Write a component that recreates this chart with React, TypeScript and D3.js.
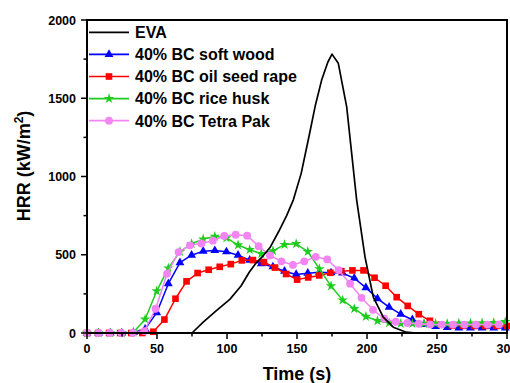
import React from 'react';
import * as d3 from 'd3';

const xTicks = [0, 50, 100, 150, 200, 250, 300];
const xMinor = [25, 75, 125, 175, 225, 275];
const yTicks = [0, 500, 1000, 1500, 2000];
const yMinor = [250, 750, 1250, 1750];

const legendNames = ['EVA', '40% BC soft wood', '40% BC oil seed rape', '40% BC rice husk', '40% BC Tetra Pak'];

const evaTime = [0, 75, 83, 92, 102, 110, 116, 121, 126, 131, 137, 142.6, 147.4, 153, 159, 163, 167.6, 172, 175, 179.5, 185.5, 192.6, 198.6, 204.5, 211.6, 218.8, 228, 235, 300];
const evaHRR = [0, 0, 70, 140, 215, 300, 390, 450, 495, 550, 650, 750, 851, 1020, 1275, 1450, 1616, 1730, 1782, 1723, 1445, 851, 485, 229, 101, 37, 5, 0, 0];

const woodTime = [0, 8.3, 16.6, 24.9, 33.2, 41.5, 49.8, 58.1, 66.4, 74.7, 83, 91.3, 99.6, 107.9, 116.2, 124.5, 132.8, 141.1, 149.4, 157.7, 166, 174.3, 182.6, 190.9, 199.2, 207.5, 215.8, 224.1, 232.4, 240.7, 249, 257.3, 265.6, 273.9, 282.2, 290.5, 298.8];
const woodHRR = [0, 0, 0, 0, 3, 25, 130, 315, 450, 497, 523, 527, 519, 497, 465, 443, 423, 395, 374, 382, 388, 385, 383, 350, 290, 220, 165, 120, 85, 55, 42, 36, 33, 32, 32, 32, 32];

const rapeTime = [0, 7.9, 15.8, 23.7, 31.6, 39.5, 47.4, 55.3, 63.2, 71.1, 79, 86.9, 94.8, 102.7, 110.6, 118.5, 126.4, 134.3, 142.2, 150.1, 158, 165.9, 173.8, 181.7, 189.6, 197.5, 205.4, 213.3, 221.2, 229.1, 237, 244.9, 252.8, 260.7, 268.6, 276.5, 284.4, 292.3, 300.2];
const rapeHRR = [0, 0, 0, 0, 0, 0, 8, 86, 219, 330, 383, 404, 423, 440, 464, 466, 453, 418, 377, 341, 355, 368, 385, 395, 400, 400, 353, 302, 229, 173, 120, 78, 54, 48, 46, 45, 45, 45, 45];

const huskTime = woodTime;
const huskHRR = [0, 0, 0, 0, 5, 88, 268, 414, 520, 570, 600, 617, 608, 562, 532, 506, 525, 565, 570, 520, 410, 300, 210, 155, 105, 78, 64, 60, 60, 60, 60, 60, 62, 62, 64, 66, 72];

const tetraTime = [0, 8.2, 16.3, 24.5, 32.7, 40.9, 49, 57.2, 65.4, 73.5, 81.7, 89.9, 98, 106.2, 114.4, 122.6, 130.7, 138.9, 147.1, 155.2, 163.4, 171.6, 179.7, 187.9, 196.1, 204.3, 212.4, 220.6, 228.8, 236.9, 245.1, 253.3, 261.5, 269.6, 277.8, 286, 294.1];
const tetraHRR = [0, 0, 0, 0, 0, 12, 155, 379, 517, 560, 572, 590, 620, 628, 622, 555, 495, 458, 435, 458, 487, 470, 402, 315, 225, 148, 91, 72, 64, 59, 55, 54, 54, 54, 54, 54, 55];

const FONT = '"Liberation Sans", Arial, Helvetica, sans-serif';

type Series = { name: string; t: number[]; v: number[]; color: string; marker: string | null };

const series: Series[] = [
  { name: legendNames[1], t: woodTime, v: woodHRR, color: '#0000ff', marker: 'triangle' },
  { name: legendNames[2], t: rapeTime, v: rapeHRR, color: '#ff0000', marker: 'square' },
  { name: legendNames[3], t: huskTime, v: huskHRR, color: '#1ecc1e', marker: 'star' },
  { name: legendNames[4], t: tetraTime, v: tetraHRR, color: '#f384f3', marker: 'circle' },
  { name: legendNames[0], t: evaTime, v: evaHRR, color: '#000000', marker: null },
];

const symbolPath = (m: string) => {
  if (m === 'triangle') return d3.symbol().type(d3.symbolTriangle).size(34)()!;
  if (m === 'square') return d3.symbol().type(d3.symbolSquare).size(44)()!;
  if (m === 'star') return d3.symbol().type(d3.symbolStar).size(34)()!;
  return d3.symbol().type(d3.symbolCircle).size(48)()!;
};

export default function App() {
  const W = 510, H = 383;
  const x = d3.scaleLinear().domain([0, 300]).range([87, 507]);
  const y = d3.scaleLinear().domain([0, 2000]).range([333, 20]);
  const line = d3.line<[number, number]>().x(d => x(d[0])).y(d => y(d[1]));

  const legendOrder = [4, 0, 1, 2, 3];
  const legendY0 = 32.3, legendDy = 22.1;

  return (
    <svg width={W} height={H} style={{ position: 'absolute', left: 0, top: 0 }} fontFamily={FONT}>
      <rect x={0} y={0} width={W} height={H} fill="#fff" />
      {/* series */}
      {series.map((s, i) => {
        const pts: [number, number][] = s.t.map((t, k) => [t, s.v[k]]);
        return (
          <g key={i}>
            <path d={line(pts)!} fill="none" stroke={s.color} strokeWidth={s.marker ? 1.5 : 1.7} strokeLinejoin="round" />
            {s.marker && pts.map((p, k) => (
              <path key={k} d={symbolPath(s.marker!)} transform={`translate(${x(p[0])},${y(p[1])})`} fill={s.color} />
            ))}
          </g>
        );
      })}
      {/* frame */}
      <line x1={87} x2={507} y1={20} y2={20} stroke="#000" strokeWidth={2} />
      <line x1={507} x2={507} y1={19} y2={334} stroke="#000" strokeWidth={2} />
      <line x1={87} x2={87} y1={19} y2={334} stroke="#000" strokeWidth={2} />
      <line x1={86} x2={508} y1={333} y2={333} stroke="#000" strokeWidth={2} />
      {/* x ticks */}
      {xTicks.map(t => (
        <g key={'xt' + t}>
          <line x1={x(t)} x2={x(t)} y1={333} y2={339} stroke="#000" strokeWidth={1.5} />
          <text x={x(t)} y={353} textAnchor="middle" fontSize={12.5} fontWeight="bold">{t}</text>
        </g>
      ))}
      {xMinor.map(t => (
        <line key={'xm' + t} x1={x(t)} x2={x(t)} y1={333} y2={336.5} stroke="#000" strokeWidth={1.5} />
      ))}
      {/* y ticks */}
      {yTicks.map(t => (
        <g key={'yt' + t}>
          <line x1={81} x2={87} y1={y(t)} y2={y(t)} stroke="#000" strokeWidth={1.5} />
          <text x={76} y={y(t) + 4.5} textAnchor="end" fontSize={12.5} fontWeight="bold">{t}</text>
        </g>
      ))}
      {yMinor.map(t => (
        <line key={'ym' + t} x1={83.5} x2={87} y1={y(t)} y2={y(t)} stroke="#000" strokeWidth={1.5} />
      ))}
      {/* axis titles */}
      <text x={297} y={380} textAnchor="middle" fontSize={18} fontWeight="bold">Time (s)</text>
      <text transform="translate(30,166) rotate(-90)" textAnchor="middle" fontSize={18} fontWeight="bold">
        HRR (kW/m<tspan fontSize={12} dy={-7}>2</tspan><tspan dy={7}>)</tspan>
      </text>
      {/* legend */}
      {legendOrder.map((si, r) => {
        const s = series[si];
        const ly = legendY0 + r * legendDy;
        return (
          <g key={'lg' + r}>
            <line x1={89} x2={129} y1={ly} y2={ly} stroke={s.color} strokeWidth={1.7} />
            {s.marker && <path d={symbolPath(s.marker)} transform={`translate(109,${ly})`} fill={s.color} />}
            <text x={135} y={ly + 5.8} fontSize={16} fontWeight="bold">{s.name}</text>
          </g>
        );
      })}
    </svg>
  );
}
